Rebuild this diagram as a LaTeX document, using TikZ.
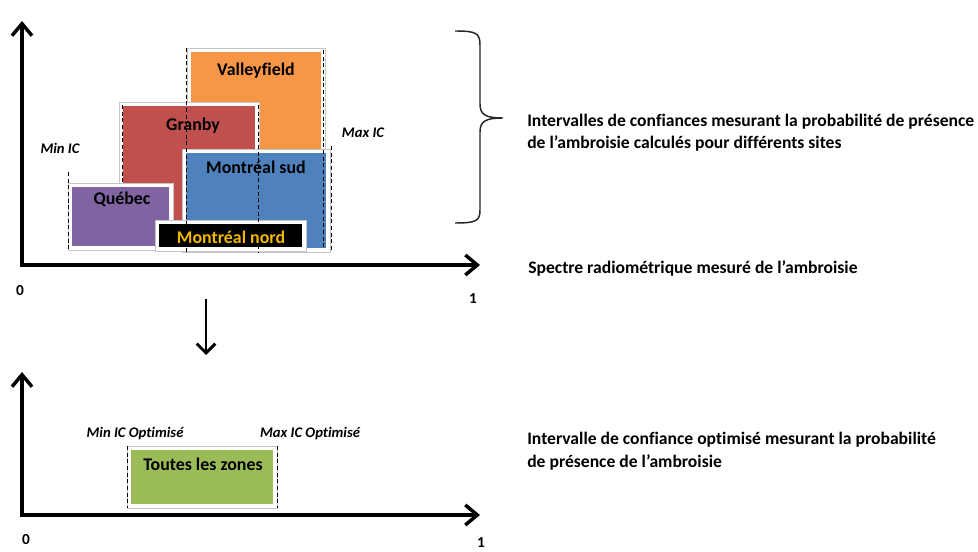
\documentclass[tikz,border=0pt]{standalone}
\usepackage{fontspec}
\setmainfont{Carlito}[Ligatures=NoCommon]
\usetikzlibrary{arrows.meta}
\definecolor{cqc}{HTML}{8064A2}
\definecolor{cgr}{HTML}{C0504D}
\definecolor{cva}{HTML}{F79646}
\definecolor{cms}{HTML}{4F81BD}
\definecolor{cgold}{HTML}{F2B800}
\definecolor{cgreen}{HTML}{9BBB59}
\begin{document}
\begin{tikzpicture}[x=0.75pt,y=-0.75pt,
  axis/.style={line width=2.6pt,line join=miter,{Straight Barb[length=9pt,width=15pt]}-{Straight Barb[length=9pt,width=15pt]}},
  frame/.style={fill=white,draw=gray!45,line width=0.6pt},
  dash line/.style={black,line width=0.7pt,dash pattern=on 3pt off 2pt},
  boxlabel/.style={font=\bfseries\fontsize{13.4}{15}\selectfont,inner sep=0pt},
  ic/.style={font=\bfseries\itshape\fontsize{11}{13}\selectfont,inner sep=0pt},
  desc/.style={font=\bfseries\fontsize{13.2}{15}\selectfont,anchor=west,inner sep=0pt},
  num/.style={font=\bfseries\fontsize{11.5}{13}\selectfont,inner sep=0pt}]
\useasboundingbox (0,0) rectangle (978,552);

% ---------- top chart ----------
\draw[axis] (22,21) -- (22,265) -- (480,265);
\node[num] (zero1) at (20,291) {0};
\node[num] (one1) at (473,299) {1};

% Valleyfield
\draw[frame] (187,48) rectangle (325,155);
\fill[cva] (191,52) rectangle (321,151);
% Granby
\draw[frame] (119,102) rectangle (259,224);
\fill[cgr] (123,106) rectangle (255,220);
% Quebec
\draw[frame] (68,183) rectangle (173,250);
\fill[cqc] (72,187) rectangle (169,246);
% Montreal sud
\draw[frame] (182,149) rectangle (330,252);
\fill[cms] (186,153) rectangle (326,248);
% Montreal nord
\draw[frame] (155,220) rectangle (306,251);
\fill[black] (159,224) rectangle (302,247);

% dashed interval lines
\draw[dash line] (68,172) -- (68,250);
\draw[dash line] (122,105) -- (122,183);
\draw[dash line] (186,48) -- (186,252);
\draw[dash line] (258,105) -- (258,253);
\draw[dash line] (323,50) -- (323,250);
\draw[dash line] (331,146) -- (331,252);

\node[boxlabel] (val) at (256,71) {Valleyfield};
\node[boxlabel] (gra) at (193,126) {Granby};
\node[boxlabel] (que) at (122,199) {Québec};
\node[boxlabel] (msud) at (256,167) {Montréal sud};
\node[boxlabel,text=cgold] (mnord) at (231,237) {Montréal nord};

\node[ic] (minic) at (60,148) {Min IC};
\node[ic] (maxic) at (363,133) {Max IC};

% brace
\draw[line width=1.1pt,black!85] (455,31) .. controls (476,31) and (480,33) .. (480,45) -- (480,104)
  .. controls (480,115) and (486,118) .. (503,118)
  .. controls (486,118) and (480,121) .. (480,132) -- (480,210)
  .. controls (480,221) and (476,223) .. (455,223);

\node[desc] (d1a) at (527,122) {Intervalles de confiances mesurant la probabilité de présence};
\node[desc] (d1b) at (527,143) {de l’ambroisie calculés pour différents sites};
\node[desc] (d2) at (528,268) {Spectre radiométrique mesuré de l’ambroisie};

% down arrow
\coordinate (arrS) at (206,299);
\coordinate (arrE) at (206,355);
\draw[line width=2.2pt,-{Straight Barb[length=7pt,width=14pt]}] (arrS) -- (arrE);

% ---------- bottom chart ----------
\draw[axis] (22,372) -- (22,515) -- (480,515);
\node[num] (zero2) at (26,540) {0};
\node[num] (one2) at (481,543) {1};

\draw[frame] (127,446) rectangle (277,508);
\fill[cgreen] (131,450) rectangle (273,504);
\draw[dash line] (127,446) -- (127,508);
\draw[dash line] (277,446) -- (277,508);
\node[boxlabel] (all) at (203,464) {Toutes les zones};

\node[ic] (minopt) at (135,434) {Min IC Optimisé};
\node[ic] (maxopt) at (310,434) {Max IC Optimisé};

\node[desc] (d3a) at (527,440) {Intervalle de confiance optimisé mesurant la probabilité};
\node[desc] (d3b) at (527,462) {de présence de l’ambroisie};
\end{tikzpicture}
\end{document}
